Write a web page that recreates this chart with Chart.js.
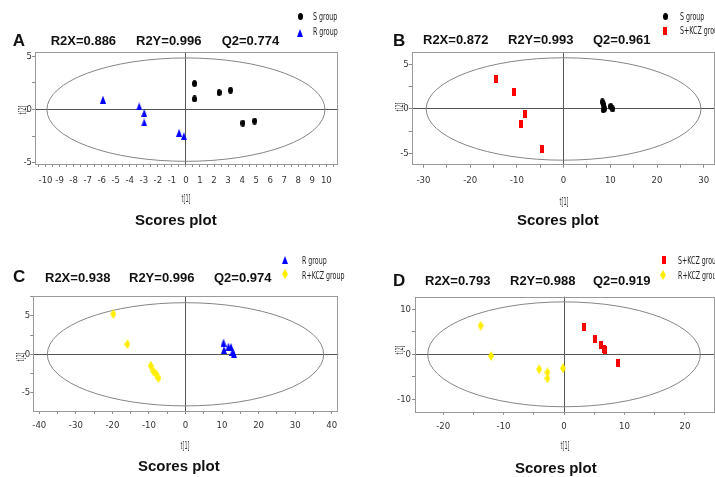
<!DOCTYPE html>
<html>
<head>
<meta charset="utf-8">
<script src="https://cdn.jsdelivr.net/npm/chart.js@4.4.1/dist/chart.umd.min.js"></script>
<style>
  html, body { margin: 0; padding: 0; background: #fff; }
  body { width: 715px; height: 477px; position: relative; overflow: hidden; font-family: "Liberation Sans", Arial, sans-serif; }
  canvas { position: absolute; }
  .txt { position: absolute; white-space: nowrap; color: #111; font-weight: bold; }
  .leg { position: absolute; white-space: nowrap; color: #222; font: 10px/10px "DejaVu Sans Condensed", sans-serif; transform: scaleX(0.7); transform-origin: 0 50%; }
  .axt { position: absolute; white-space: nowrap; color: #333; font: 10px/10px "DejaVu Sans Condensed", sans-serif; }
</style>
</head>
<body>
<script>
// ---- scores t[1] / t[2] ----

// A: S group vs R group
const aS_t1 = [0.61, 0.61, 2.36, 3.17, 4.05, 4.89];
const aS_t2 = [2.45, 1.00, 1.60, 1.82, -1.26, -1.07];
const aR_t1 = [-5.91, -3.33, -2.97, -2.97, -0.49, -0.15];
const aR_t2 = [0.94, 0.31, -0.32, -1.20, -2.17, -2.49];
const aStats = ['R2X=0.886', 'R2Y=0.996', 'Q2=0.774'];
const aXRange = [-10.75, 10.85];
const aYRange = [-5.1, 5.38];
const aXLabels = [-10, -9, -8, -7, -6, -5, -4, -3, -2, -1, 0, 1, 2, 3, 4, 5, 6, 7, 8, 9, 10];
const aYLabels = [-5, 0, 5];
const aEllipse = [9.9, 4.85];

// B: S group vs S+KCZ group
const bS_t1 = [8.3, 8.6, 8.8, 8.5, 10.1, 10.5];
const bS_t2 = [0.8, 0.5, 0.05, -0.1, 0.3, 0.0];
const bSK_t1 = [-14.45, -10.6, -8.3, -9.2, -4.55];
const bSK_t2 = [3.36, 1.93, -0.57, -1.7, -4.53];
const bStats = ['R2X=0.872', 'R2Y=0.993', 'Q2=0.961'];
const bXRange = [-32.5, 32.4];
const bYRange = [-6.31, 6.42];
const bXLabels = [-30, -20, -10, 0, 10, 20, 30];
const bYLabels = [-5, 0, 5];
const bEllipse = [29.4, 5.8];

// C: R group vs R+KCZ group
const cR_t1 = [10.4, 10.5, 11.75, 12.45, 12.85, 13.25];
const cR_t2 = [1.53, 0.56, 1.01, 0.95, 0.3, 0.04];
const cRK_t1 = [-19.75, -15.9, -9.5, -8.8, -8.0, -7.4];
const cRK_t2 = [5.23, 1.3, -1.5, -2.2, -2.6, -3.1];
const cStats = ['R2X=0.938', 'R2Y=0.996', 'Q2=0.974'];
const cXRange = [-41.64, 41.8];
const cYRange = [-7.36, 7.57];
const cXLabels = [-40, -30, -20, -10, 0, 10, 20, 30, 40];
const cYLabels = [-5, 0, 5];
const cEllipse = [37.8, 6.7];

// D: S+KCZ group vs R+KCZ group
const dSK_t1 = [3.29, 5.1, 6.13, 6.57, 6.85, 8.87];
const dSK_t2 = [6.13, 3.33, 2.07, 1.18, 0.96, -1.87];
const dRK_t1 = [-13.8, -12.05, -4.1, -2.74, -2.74, -0.16];
const dRK_t2 = [6.36, -0.38, -3.33, -4.0, -5.33, -3.11];
const dStats = ['R2X=0.793', 'R2Y=0.988', 'Q2=0.919'];
const dXRange = [-24.65, 24.98];
const dYRange = [-12.75, 12.8];
const dXLabels = [-20, -10, 0, 10, 20];
const dYLabels = [-10, 0, 10];
const dEllipse = [22.55, 11.65];

// ---- look ----
const TICK_FONT = { family: '"DejaVu Sans Condensed", sans-serif', size: 9.5 };
const groupLook = {
  'S group':     { shape: 'circle',   color: '#000000' },
  'R group':     { shape: 'triangle', color: '#0000ff' },
  'S+KCZ group': { shape: 'rect',     color: '#ff0000' },
  'R+KCZ group': { shape: 'diamond',  color: '#ffee00' }
};
const shapeSize = { circle: [5, 7], triangle: [6, 8], rect: [4, 8], diamond: [6, 10] };

function marker(shape, color) {
  const [w, h] = shapeSize[shape];
  const c = document.createElement('canvas');
  c.width = w; c.height = h;
  const g = c.getContext('2d');
  g.fillStyle = color;
  g.beginPath();
  if (shape === 'circle') g.ellipse(w / 2, h / 2, w / 2, h / 2, 0, 0, Math.PI * 2);
  else if (shape === 'triangle') { g.moveTo(w / 2, 0); g.lineTo(w, h); g.lineTo(0, h); g.closePath(); }
  else if (shape === 'rect') g.rect(0, 0, w, h);
  else { g.moveTo(w / 2, 0); g.lineTo(w, h / 2); g.lineTo(w / 2, h); g.lineTo(0, h / 2); g.closePath(); }
  g.fill();
  return c;
}

// frame box + confidence ellipse, drawn through the scales
const plotFrame = {
  id: 'plotFrame',
  beforeDatasetsDraw(chart, args, opts) {
    const { ctx, chartArea: a, scales: { x, y } } = chart;
    const cx = x.getPixelForValue(0), cy = y.getPixelForValue(0);
    const rx = x.getPixelForValue(opts.ellipse[0]) - cx;
    const ry = cy - y.getPixelForValue(opts.ellipse[1]);
    ctx.save();
    ctx.strokeStyle = '#858585';
    ctx.lineWidth = 1;
    ctx.beginPath();
    ctx.ellipse(cx, cy, rx, ry, 0, 0, Math.PI * 2);
    ctx.stroke();
    ctx.strokeStyle = '#9a9a9a';
    ctx.strokeRect(Math.round(a.left) + 0.5, Math.round(a.top) + 0.5, Math.round(a.width) - 1, Math.round(a.height));
    ctx.restore();
  }
};

function axisOpts(range, step, labels, gap, size, horizontal) {
  return {
    type: 'linear',
    min: range[0],
    max: range[1],
    afterFit: s => { if (horizontal) s.height = size; else s.width = size; },
    border: { display: false },
    grid: {
      color: c => (c.tick && c.tick.value === 0) ? '#555555' : 'rgba(0,0,0,0)',
      tickColor: '#8a8a8a',
      tickLength: 3,
      lineWidth: 1
    },
    ticks: {
      stepSize: step,
      autoSkip: false,
      maxRotation: 0,
      minRotation: 0,
      includeBounds: false,
      padding: gap,
      color: '#333',
      font: TICK_FONT,
      callback: v => labels.includes(v) ? String(v) : ''
    },
    title: { display: false }
  };
}

const panels = [
  {
    series: [['S group', aS_t1, aS_t2], ['R group', aR_t1, aR_t2]],
    stats: aStats, letter: 'A', xRange: aXRange, yRange: aYRange, xLabels: aXLabels, yLabels: aYLabels, ellipse: aEllipse,
    xStep: 0.5, yStep: 2.5,
    canvas: [0, 0, 357, 238], plot: [35, 52.3, 338.3, 164], xGap: 8.3, yGap: 0,
    xTitle: [186, 199], yTitle: [23, 110],
    letterPos: [12.7, 35], statsX: [50.7, 136, 221.7], statsY: 35.7, scoresPos: [135, 214],
    legend: [[300, 16.3, 313, 17], [299.5, 32.7, 313, 32]]
  },
  {
    series: [['S group', bS_t1, bS_t2], ['S+KCZ group', bSK_t1, bSK_t2]],
    stats: bStats, letter: 'B', xRange: bXRange, yRange: bYRange, xLabels: bXLabels, yLabels: bYLabels, ellipse: bEllipse,
    xStep: 5, yStep: 2.5,
    canvas: [357, 0, 363, 238], plot: [411.7, 52.3, 717, 164.7], xGap: 7.3, yGap: 0,
    xTitle: [563.5, 202], yTitle: [400, 107],
    letterPos: [393, 35], statsX: [423, 508, 593], statsY: 35.5, scoresPos: [517, 214],
    legend: [[665, 16, 680, 17], [665, 31, 680, 31]]
  },
  {
    series: [['R group', cR_t1, cR_t2], ['R+KCZ group', cRK_t1, cRK_t2]],
    stats: cStats, letter: 'C', xRange: cXRange, yRange: cYRange, xLabels: cXLabels, yLabels: cYLabels, ellipse: cEllipse,
    xStep: 5, yStep: 2.5,
    canvas: [0, 238, 357, 239], plot: [33.3, 296, 338.3, 411], xGap: 6.3, yGap: 0,
    xTitle: [185, 446], yTitle: [20.5, 356.7],
    letterPos: [13, 270.7], statsX: [45, 129, 214], statsY: 273, scoresPos: [138, 460.7],
    legend: [[284.5, 260, 302, 261], [285, 274, 302, 276]]
  },
  {
    series: [['S+KCZ group', dSK_t1, dSK_t2], ['R+KCZ group', dRK_t1, dRK_t2]],
    stats: dStats, letter: 'D', xRange: dXRange, yRange: dYRange, xLabels: dXLabels, yLabels: dYLabels, ellipse: dEllipse,
    xStep: 5, yStep: 5,
    canvas: [357, 238, 363, 239], plot: [415, 296.7, 717, 411.7], xGap: 6.3, yGap: 1,
    xTitle: [564.5, 446], yTitle: [400, 350],
    letterPos: [393, 275], statsX: [425, 510, 593], statsY: 276, scoresPos: [515, 462],
    legend: [[663.5, 259.5, 678, 261], [663, 274.5, 678, 276]]
  }
];

function addText(text, x, capTop, size) {
  const d = document.createElement('div');
  d.className = 'txt';
  d.textContent = text;
  d.style.left = x + 'px';
  d.style.top = (capTop - 0.158 * size) + 'px';
  d.style.fontSize = size + 'px';
  d.style.lineHeight = size + 'px';
  document.body.appendChild(d);
}

function addAxisTitle(text, pos, vertical) {
  const d = document.createElement('div');
  d.className = 'axt';
  d.textContent = text;
  d.style.left = pos[0] + 'px';
  d.style.top = pos[1] + 'px';
  d.style.transform = 'translate(-50%, -50%)' + (vertical ? ' rotate(-90deg)' : '') + ' scaleX(0.55)';
  document.body.appendChild(d);
}

function buildPanel(p) {
  const [cl, ct, cw, ch] = p.canvas;
  const [pl, pt, pr, pb] = p.plot;
  const canvas = document.createElement('canvas');
  canvas.width = cw;
  canvas.height = ch;
  canvas.style.left = cl + 'px';
  canvas.style.top = ct + 'px';
  document.body.appendChild(canvas);

  const yAxisW = 20, xAxisH = 30;

  new Chart(canvas, {
    type: 'scatter',
    data: {
      datasets: p.series.map(([name, t1, t2]) => ({
        label: name,
        data: t1.map((v, i) => ({ x: v, y: t2[i] })),
        pointStyle: marker(groupLook[name].shape, groupLook[name].color),
        pointRadius: 4,
        pointHoverRadius: 4
      }))
    },
    options: {
      responsive: false,
      animation: false,
      devicePixelRatio: 1,
      events: [],
      layout: {
        padding: {
          left: pl - cl - yAxisW,
          top: pt - ct,
          right: cl + cw - pr,
          bottom: ch - (pb - ct) - xAxisH
        }
      },
      plugins: {
        legend: { display: false },
        tooltip: { enabled: false },
        plotFrame: { ellipse: p.ellipse }
      },
      scales: {
        x: axisOpts(p.xRange, p.xStep, p.xLabels, p.xGap, xAxisH, true),
        y: axisOpts(p.yRange, p.yStep, p.yLabels, p.yGap, yAxisW, false)
      }
    },
    plugins: [plotFrame]
  });

  addAxisTitle('t[1]', p.xTitle, false);
  addAxisTitle('t[2]', p.yTitle, true);
  addText(p.letter, p.letterPos[0], p.letterPos[1], 17);
  p.stats.forEach((s, i) => addText(s, p.statsX[i], p.statsY, 13));
  addText('Scores plot', p.scoresPos[0], p.scoresPos[1], 15);

  p.series.forEach(([name], i) => {
    const [mx, my, tx, ty] = p.legend[i];
    const m = marker(groupLook[name].shape, groupLook[name].color);
    m.style.left = (mx - m.width / 2) + 'px';
    m.style.top = (my - m.height / 2) + 'px';
    document.body.appendChild(m);
    const d = document.createElement('div');
    d.className = 'leg';
    d.textContent = name;
    d.style.left = tx + 'px';
    d.style.top = (ty - 5) + 'px';
    document.body.appendChild(d);
  });
}

panels.forEach(buildPanel);
</script>
</body>
</html>
